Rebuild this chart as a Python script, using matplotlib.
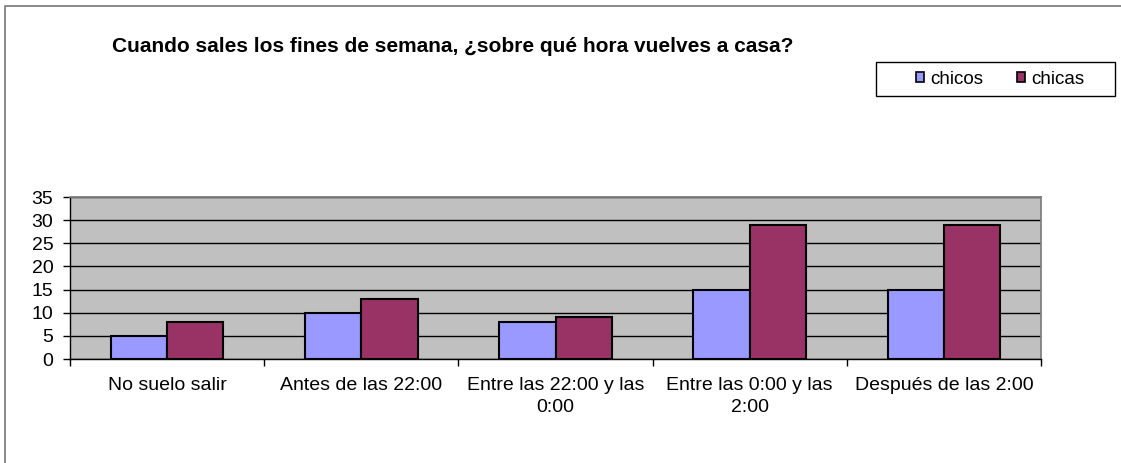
import numpy as np
import matplotlib
matplotlib.use('Agg')
import matplotlib.pyplot as plt
from matplotlib.patches import Rectangle
from matplotlib.lines import Line2D

plt.rcParams['font.family'] = ['Liberation Sans', 'DejaVu Sans']

# data
categories = ['No suelo salir', 'Antes de las 22:00', 'Entre las 22:00 y las\n0:00',
              'Entre las 0:00 y las\n2:00', 'Después de las 2:00']
chicos = [5, 10, 8, 15, 15]
chicas = [8, 13, 9, 29, 29]
series_names = ['chicos', 'chicas']
colors = ['#9999FF', '#993366']
yticks = [0, 5, 10, 15, 20, 25, 30, 35]

fig = plt.figure(figsize=(11.21, 4.63), dpi=100)
W, H = 1121, 463

# outer chart frame (only left and top edges are visible in the crop)
fig.lines.append(Line2D([5 / W, 5 / W, 1.0], [0, 1 - 6 / H, 1 - 6 / H],
                        transform=fig.transFigure, color='#808080', lw=1.3))

ax = fig.add_axes([70 / W, (H - 359) / H, (1041 - 70) / W, (359 - 197) / H])
ax.set_facecolor('#C0C0C0')

x = np.arange(len(categories))
bw = 0.29
ax.bar(x - bw / 2, chicos, width=bw, color=colors[0], edgecolor='black', lw=1.5,
       label=series_names[0], zorder=3)
ax.bar(x + bw / 2, chicas, width=bw, color=colors[1], edgecolor='black', lw=1.5,
       label=series_names[1], zorder=3)

ax.set_xlim(-0.5, len(categories) - 0.5)
ax.set_ylim(0, 35)
ax.set_yticks(yticks)
ax.tick_params(axis='y', labelsize=14, length=5, width=1, pad=7, color='black')
ax.yaxis.grid(True, color='black', lw=1, zorder=1)
ax.set_axisbelow(True)

# category boundary ticks, labels at centers
ax.set_xticks(np.arange(-0.5, len(categories), 1.0))
ax.set_xticklabels([])
ax.tick_params(axis='x', which='major', length=5, width=1, direction='out')
ax.set_xticks(x, minor=True)
ax.set_xticklabels(categories, minor=True, fontsize=14, linespacing=1.4)
ax.tick_params(axis='x', which='minor', length=0, pad=13)

for s in ['top', 'right']:
    ax.spines[s].set_color('#808080')
    ax.spines[s].set_linewidth(1.3)
for s in ['left', 'bottom']:
    ax.spines[s].set_color('black')
    ax.spines[s].set_linewidth(1)

fig.text(112 / W, 1 - 52 / H, 'Cuando sales los fines de semana, ¿sobre qué hora vuelves a casa?',
         fontsize=15, fontweight='bold', ha='left', va='baseline')

# legend box drawn separately so its padding matches the original
fig.patches.append(Rectangle((876 / W, 1 - 96 / H), (1115 - 876) / W, 34 / H,
                             transform=fig.transFigure, facecolor='white',
                             edgecolor='black', lw=1, zorder=5))
leg = fig.legend(loc='center', bbox_to_anchor=(1000 / W, 1 - 79 / H), ncol=2,
                 fontsize=13.5, frameon=False, handlelength=0.45,
                 handleheight=0.45, handletextpad=0.3, columnspacing=1.8,
                 borderpad=0.2)
leg.set_zorder(6)
for p in leg.get_patches():
    p.set_linewidth(1.2)

fig.savefig('out.png', dpi=100)
